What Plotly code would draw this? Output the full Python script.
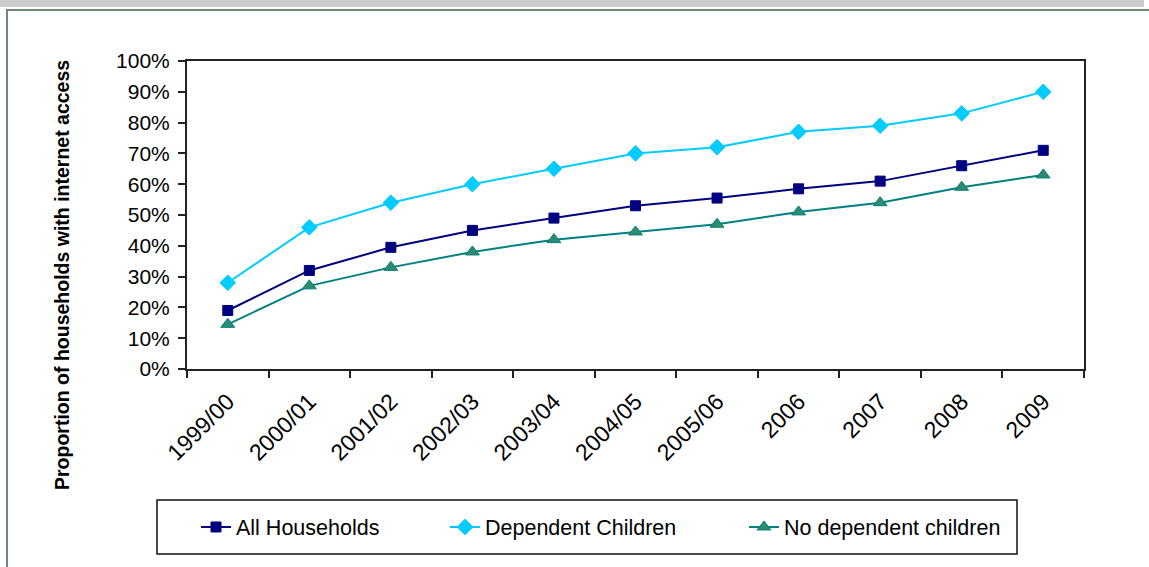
import plotly.graph_objects as go

# Survey years on the category axis
years = ["1999/00", "2000/01", "2001/02", "2002/03", "2003/04", "2004/05",
         "2005/06", "2006", "2007", "2008", "2009"]

# Share of households with internet access (fractions)
all_households = [0.19, 0.32, 0.395, 0.45, 0.49, 0.53, 0.555, 0.585, 0.61, 0.66, 0.71]
dependent_children = [0.28, 0.46, 0.54, 0.60, 0.65, 0.70, 0.72, 0.77, 0.79, 0.83, 0.90]
no_dependent_children = [0.145, 0.27, 0.33, 0.38, 0.42, 0.445, 0.47, 0.51, 0.54, 0.59, 0.63]

y_ticks = [i / 10 for i in range(11)]

# Page geometry in pixels
W, H = 1149, 567
L, R, T, B = 187, 1084, 61, 369
FONT = "Liberation Sans, Arial, sans-serif"


def px(x):
    # pixel x -> paper x
    return (x - L) / (R - L)


def py(y):
    # pixel y -> paper y
    return (B - y) / (B - T)


fig = go.Figure()

fig.add_trace(go.Scatter(
    x=years, y=all_households, name="All Households", mode="lines+markers",
    line=dict(color="#000080", width=2),
    marker=dict(symbol="square", size=10, color="#000080", line=dict(color="#000080", width=1)),
    legend="legend",
))
fig.add_trace(go.Scatter(
    x=years, y=dependent_children, name="Dependent Children", mode="lines+markers",
    line=dict(color="#00ccff", width=2),
    marker=dict(symbol="diamond", size=12, color="#00ccff", line=dict(color="#00ccff", width=1)),
    legend="legend2",
))
fig.add_trace(go.Scatter(
    x=years, y=no_dependent_children, name="No dependent children", mode="lines+markers",
    line=dict(color="#008080", width=2),
    marker=dict(symbol="triangle-up", size=12, color="#2e8b6e", line=dict(color="#008080", width=1)),
    legend="legend3",
))

# Frame: grey title strip and the outer green-grey border
fig.add_shape(type="rect", xref="paper", yref="paper",
              x0=px(0), x1=px(1144), y0=py(0), y1=py(7),
              fillcolor="#cccccc", line=dict(width=0), layer="below")
fig.add_shape(type="rect", xref="paper", yref="paper",
              x0=px(7), x1=px(1160), y0=py(10), y1=py(580),
              fillcolor="rgba(0,0,0,0)", line=dict(color="#6d8a74", width=2))
# Legend box
fig.add_shape(type="rect", xref="paper", yref="paper",
              x0=px(157), x1=px(1017), y0=py(500), y1=py(554),
              fillcolor="rgba(0,0,0,0)", line=dict(color="#111111", width=1.5))

fig.add_annotation(
    text="<b>Proportion of households with internet access</b>",
    xref="paper", yref="paper", x=px(62), y=py(275), textangle=-90,
    xanchor="center", yanchor="middle",
    showarrow=False, font=dict(family=FONT, size=19.5, color="#000000"),
)

legend_common = dict(orientation="h", xanchor="left", yanchor="middle",
                     bgcolor="rgba(0,0,0,0)", borderwidth=0,
                     font=dict(family=FONT, size=21.5, color="#000000"))

fig.update_layout(
    width=W, height=H,
    margin=dict(l=L, r=W - R, t=T, b=H - B),
    paper_bgcolor="white", plot_bgcolor="white",
    font=dict(family=FONT, size=21, color="#000000"),
    showlegend=True,
    legend=dict(x=px(196), y=py(527), **legend_common),
    legend2=dict(x=px(445), y=py(527), **legend_common),
    legend3=dict(x=px(744), y=py(527), **legend_common),
)

fig.update_xaxes(
    type="category", range=[-0.5, len(years) - 0.5],
    tickson="boundaries", ticks="outside", ticklen=7, tickwidth=2, tickcolor="#222222",
    tickangle=-45, tickfont=dict(size=23), ticklabelstandoff=8,
    showgrid=False, zeroline=False,
    showline=True, linecolor="#222222", linewidth=2, mirror=True,
)
fig.update_yaxes(
    range=[0, 1], tickvals=y_ticks, tickformat=".0%",
    ticks="outside", ticklen=7, tickwidth=2, tickcolor="#222222",
    ticklabelstandoff=4, showgrid=False, zeroline=False,
    showline=True, linecolor="#222222", linewidth=2, mirror=True,
)

# drop the browser's default body margin so the figure sits at the page corner
fig.write_html("out.html", config={"displayModeBar": False},
               post_script="document.body.style.margin='0';")
